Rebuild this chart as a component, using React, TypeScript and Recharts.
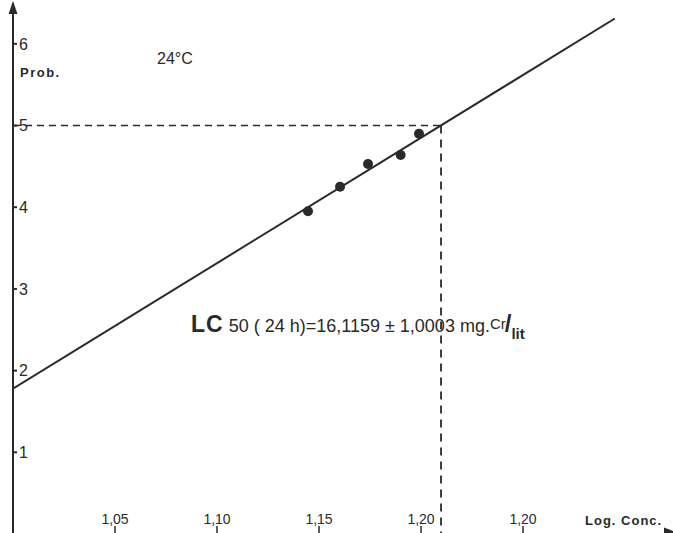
import React from 'react'
import { ComposedChart, Line, Scatter, XAxis, YAxis, ReferenceLine, ReferenceDot } from 'recharts'

// observed points (log concentration vs probit)
const logConc = [1.1446, 1.1603, 1.174, 1.19, 1.199]
const probits = [3.95, 4.25, 4.53, 4.64, 4.9]

// fitted regression line end points
const fitLogConc = [1.0, 1.295]
const fitProbit = [1.78, 6.31]

const xTicks = [1.05, 1.1, 1.15, 1.2, 1.25]
const xTickLabels = ['1,05', '1,10', '1,15', '1,20', '1,20']
const yTicks = [1, 2, 3, 4, 5, 6]

const lc50Log = 1.2098
const lc50Probit = 5

const INK = '#2a2a28'
const FONT = '"Liberation Sans", Arial, Helvetica, sans-serif'

const points = logConc.map((x, i) => ({ x, y: probits[i] }))
const fit = fitLogConc.map((x, i) => ({ x, y: fitProbit[i] }))

const Dot = (p: any) => <circle cx={p.cx} cy={p.cy} r={5} fill={INK} />

const UpArrow = (p: any) => (
  <path d={`M${p.cx},${p.cy - 2} L${p.cx - 4.5},${p.cy + 11} L${p.cx + 4.5},${p.cy + 11} Z`} fill={INK} />
)
const RightArrow = (p: any) => (
  <path d={`M${p.cx + 3},${p.cy - 2} L${p.cx - 9},${p.cy - 6.5} L${p.cx - 9},${p.cy + 2.5} Z`} fill={INK} />
)

export default function App() {
  return (
    <div style={{ position: 'absolute', left: 0, top: 0, width: 673, height: 533, overflow: 'hidden', background: '#fff', fontFamily: FONT }}>
      <ComposedChart width={673} height={540} margin={{ top: 3, right: 0, left: 13, bottom: 6 }}>
        <XAxis
          type="number"
          dataKey="x"
          domain={[1.0, 1.3235]}
          ticks={xTicks}
          allowDataOverflow
          mirror
          tickSize={8}
          tickFormatter={(v, i) => xTickLabels[i] ?? String(v)}
          axisLine={{ stroke: INK, strokeWidth: 2 }}
          tickLine={{ stroke: INK, strokeWidth: 1.5 }}
          tick={{ fill: INK, fontSize: 14, fontFamily: FONT }}
        />
        <YAxis
          type="number"
          dataKey="y"
          domain={[0, 6.5]}
          ticks={yTicks}
          allowDataOverflow
          mirror
          tickSize={4}
          axisLine={{ stroke: INK, strokeWidth: 2 }}
          tickLine={{ stroke: INK, strokeWidth: 2 }}
          tick={{ fill: INK, fontSize: 16, fontFamily: FONT }}
        />
        <ReferenceLine
          segment={[{ x: 1.0, y: lc50Probit }, { x: lc50Log, y: lc50Probit }]}
          stroke={INK}
          strokeWidth={1.5}
          strokeDasharray="7 5"
        />
        <ReferenceLine
          segment={[{ x: lc50Log, y: lc50Probit }, { x: lc50Log, y: 0 }]}
          stroke={INK}
          strokeWidth={1.8}
          strokeDasharray="8 6"
        />
        <Line
          data={fit}
          dataKey="y"
          type="linear"
          stroke={INK}
          strokeWidth={2}
          dot={false}
          activeDot={false}
          isAnimationActive={false}
        />
        <Scatter data={points} dataKey="y" fill={INK} shape={Dot} isAnimationActive={false} />
        <ReferenceDot x={1.0} y={6.5} r={0} shape={UpArrow} ifOverflow="visible" />
        <ReferenceDot x={1.3235} y={0} r={0} shape={RightArrow} ifOverflow="visible" />
      </ComposedChart>

      <div style={{ position: 'absolute', left: 20, top: 65, fontSize: 13, fontWeight: 700, letterSpacing: 1.5, color: INK }}>Prob.</div>
      <div style={{ position: 'absolute', left: 157, top: 50, fontSize: 16, color: INK }}>24°C</div>
      <div style={{ position: 'absolute', left: 191, top: 312, color: INK, whiteSpace: 'nowrap', lineHeight: 1 }}>
        <span style={{ fontSize: 23, fontWeight: 700, letterSpacing: 1 }}>LC</span>
        <span style={{ fontSize: 18 }}> 50 ( 24 h)=16,1159 ± 1,0003 mg.</span>
        <span style={{ fontSize: 15, position: 'relative', top: -3 }}>Cr</span>
        <span style={{ fontSize: 24, fontWeight: 700, marginLeft: -1 }}>/</span>
        <span style={{ fontSize: 15, fontWeight: 700, position: 'relative', top: 7 }}>lit</span>
      </div>
      <div style={{ position: 'absolute', left: 585, top: 513, fontSize: 13, fontWeight: 700, letterSpacing: 1, color: INK }}>Log. Conc.</div>
    </div>
  )
}
